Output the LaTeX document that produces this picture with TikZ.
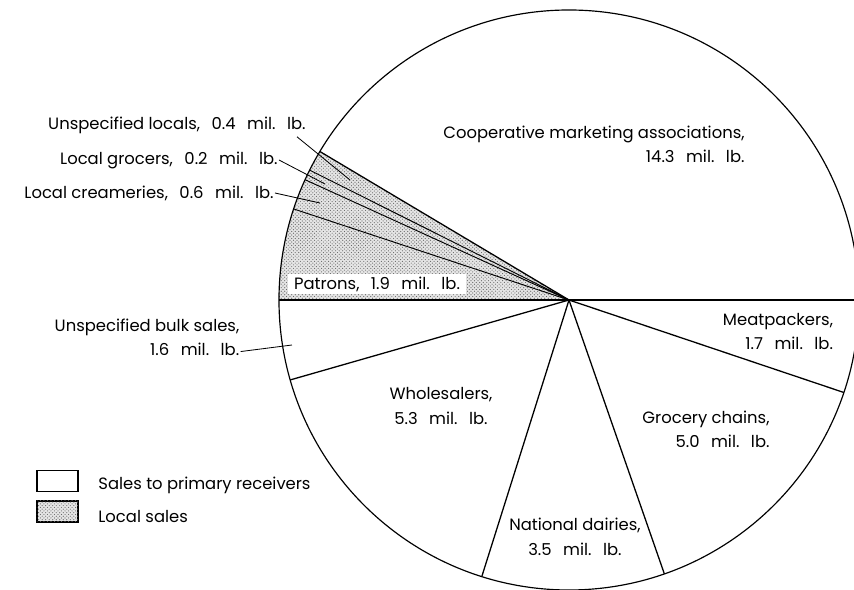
\documentclass[tikz,border=0pt]{standalone}
\usepackage{fontspec}
\setmainfont{Poppins}
\usetikzlibrary{patterns}
\def\R{290}
\def\wgap{\hskip0.7em\relax}
\tikzset{
  lbl/.style={font=\fontsize{14}{21}\selectfont, inner sep=1pt, align=center},
  rim/.style={line width=1pt},
  spoke/.style={line width=1.1pt},
  thinspoke/.style={line width=0.8pt},
  leader/.style={line width=0.7pt},
  stipple/.style={pattern=crosshatch dots, pattern color=black!60},
  keybox/.style={draw, line width=0.9pt, minimum width=41*0.03cm, minimum height=21*0.03cm, inner sep=0pt},
}

\begin{document}
\begin{tikzpicture}[x=0.03cm, y=0.03cm]
			%%%%% START %%%%%
			\useasboundingbox (-569,-290) rectangle (285,300);
			\clip (-569,-290) rectangle (285,300);
			\coordinate (c) at (0,0);
			
			% local sales
			\fill[black!10] (c) -- (149.2:\R) arc (149.2:180:\R) -- cycle;
			\fill[stipple] (c) -- (149.2:\R) arc (149.2:180:\R) -- cycle;
			
			\draw[rim] (c) circle (\R);
			\foreach \a in {0, 149.2, 180, 196, 252.5, 289.2, 341.4}
				\draw[spoke] (c) -- (\a:\R);
			\foreach \a in {153.4, 155.5, 161.7}
				\draw[thinspoke] (c) -- (\a:\R);
			
			\node[lbl, align=right] (coop) at (25,155.5) {Cooperative marketing associations,\\14.3\wgap mil.\wgap lb.};
			\node[lbl, align=right] (meat) at (209,-31.5) {Meatpackers,\\1.7\wgap mil.\wgap lb.};
			\node[lbl, align=right] (grocery) at (137,-129.5) {Grocery chains,\\5.0\wgap mil.\wgap lb.};
			\node[lbl] (dairies) at (6,-237) {National dairies,\\3.5\wgap mil.\wgap lb.};
			\node[lbl] (whole) at (-128,-106) {Wholesalers,\\5.3\wgap mil.\wgap lb.};
			\node[lbl, fill=white, inner xsep=5pt, inner ysep=2pt] (patrons) at (-192,16) {Patrons,\wgap 1.9\wgap mil.\wgap lb.};
			
			% outside labels
			\node[lbl, align=right] (bulk) at (-422,-37.5) {Unspecified bulk sales,\\1.6\wgap mil.\wgap lb.};
			\node[lbl, anchor=east] (locals) at (-262,175) {Unspecified locals,\wgap 0.4\wgap mil.\wgap lb.};
			\node[lbl, anchor=east] (grocers) at (-290,140) {Local grocers,\wgap 0.2\wgap mil.\wgap lb.};
			\node[lbl, anchor=east] (cream) at (-294,107) {Local creameries,\wgap 0.6\wgap mil.\wgap lb.};
			
			\coordinate (locals-end) at (-219,120);
			\coordinate (grocers-end) at (-244,116);
			\coordinate (cream-end) at (-249,97);
			\coordinate (bulk-end) at (-277,-45);
			
			\draw[leader] ([xshift=-10*0.03cm, yshift=-2*0.03cm]locals.south east) -- (locals-end);
			\draw[leader] (grocers.east) -- (grocers-end);
			\draw[leader] (cream.east) -- (cream-end);
			\draw[leader] ([yshift=6*0.03cm]bulk.south east) -- (bulk-end);
			
			% key
			\node[keybox] (keyrecv) at (-511.5,-181) {};
			\node[keybox, fill=black!10, postaction={stipple}] (keylocal) at (-511.5,-211.5) {};
			\node[lbl, anchor=west] (recv) at (-472,-185) {Sales to primary receivers};
			\node[lbl, anchor=west] (local) at (-472,-217) {Local sales};
			
			%%%%% END %%%%%
\end{tikzpicture}
\end{document}
